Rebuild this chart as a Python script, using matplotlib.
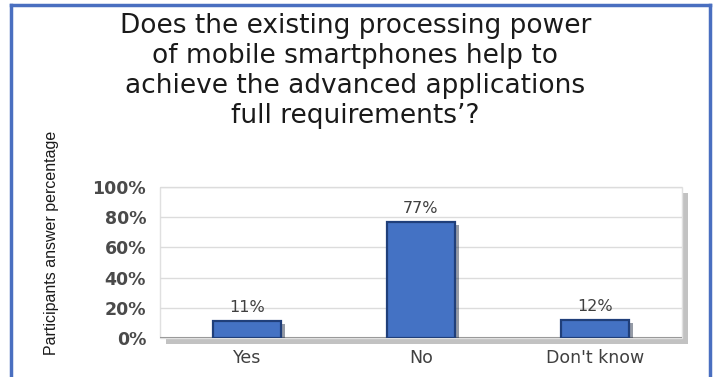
import matplotlib
matplotlib.use("Agg")
import matplotlib.pyplot as plt
import matplotlib.patheffects as pe
from matplotlib.patches import Rectangle
from matplotlib.lines import Line2D
from matplotlib.ticker import PercentFormatter

answers = ["Yes", "No", "Don't know"]
shares = [11, 77, 12]
yticks = [0, 20, 40, 60, 80, 100]

title = ("Does the existing processing power\n"
         "of mobile smartphones help to\n"
         "achieve the advanced applications\n"
         "full requirements\u2019?")

fig = plt.figure(figsize=(7.15, 3.77), dpi=100)
fig.patch.set_facecolor("white")

# blue frame around the figure (open at the bottom)
frame_col = "#4a6fc0"
for xs, ys in [([11/715, 11/715], [0, 1 - 5/377]),
               ([11/715, 710/715], [1 - 5/377, 1 - 5/377]),
               ([710/715, 710/715], [1 - 5/377, 0])]:
    fig.add_artist(Line2D(xs, ys, color=frame_col, lw=2.5, transform=fig.transFigure))

fig.text(0.497, 1 - 71/377, title, ha="center", va="center", fontsize=19,
         linespacing=1.2, color="#1a1a1a", family="DejaVu Sans")

ax = fig.add_axes([160/715, 1 - 338/377, 522/715, 151/377])
ax.set_xlim(-0.5, 2.5)
ax.set_ylim(0, 100)

# plot area box with a soft drop shadow
box = Rectangle((0, 0), 1, 1, transform=ax.transAxes, facecolor="white",
                edgecolor="#e0e0e0", lw=1, zorder=0, clip_on=False,
                path_effects=[pe.SimplePatchShadow(offset=(4, -4), shadow_rgbFace="#9a9a9a", alpha=0.6), pe.Normal()])
ax.add_patch(box)
ax.set_facecolor("none")
for s in ax.spines.values():
    s.set_visible(False)

for t in yticks[1:]:
    ax.axhline(t, color="#dcdcdc", lw=1, zorder=1)
ax.axhline(0, color="#9a9a9a", lw=1.5, zorder=1)

x = range(len(answers))
bars = ax.bar(x, shares, width=0.39, color="#4472c4", edgecolor="#203f7a", lw=1.6, zorder=3,
              path_effects=[pe.SimplePatchShadow(offset=(3, -2), alpha=0.45), pe.Normal()])
for xi, v in zip(x, shares):
    ax.text(xi, v + 4, f"{v}%", ha="center", va="bottom", fontsize=11.5, color="#404040")

ax.set_xticks(list(x))
ax.set_xticklabels(answers, fontsize=12.5, color="#404040")
ax.set_yticks(yticks)
ax.yaxis.set_major_formatter(PercentFormatter(decimals=0))
ax.tick_params(axis="y", labelsize=12.5, labelcolor="#4a4a4a", length=0, pad=10)
ax.tick_params(axis="x", length=0, pad=8)
for lab in ax.get_yticklabels():
    lab.set_fontweight("semibold")

fig.text(52/715, 1 - 243/377, "Participants answer percentage", rotation=90,
         ha="center", va="center", fontsize=11.5, color="#1a1a1a",
         family="Liberation Sans")

fig.savefig("out.png", dpi=100)
